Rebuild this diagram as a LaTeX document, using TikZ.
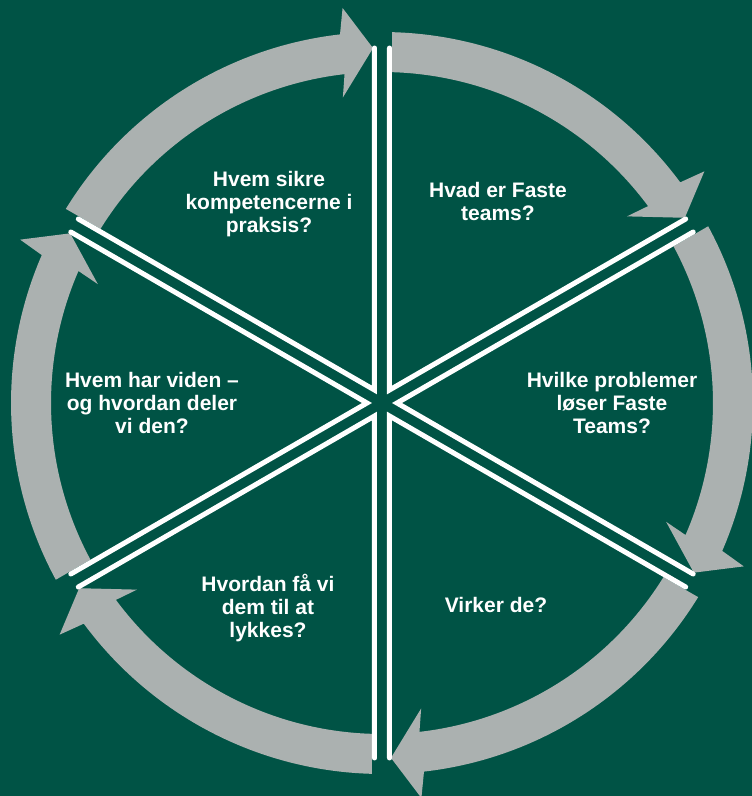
\documentclass[tikz,border=0pt]{standalone}
\usepackage{fontspec}
\setmainfont{Liberation Sans}
\definecolor{bg}{RGB}{0,83,69}
\definecolor{bandgray}{RGB}{171,177,176}
\begin{document}
\begin{tikzpicture}[x=1pt,y=1pt,
  bandarrow/.style={fill=bandgray},
  divider/.style={draw=white,line width=5pt,line cap=round,line join=miter},
  qtext/.style={text=white,font=\fontsize{21}{23}\selectfont\bfseries,align=center,inner sep=0pt}]
\useasboundingbox (-382,-393) rectangle (370,403);
\fill[bg] (-382,-393) rectangle (370,403);
% curved arrows (clockwise)
\foreach \a in {90,30,-30,-90,-150,-210}{
  \pgfmathsetmacro\tlo{\a-1.55}
  \pgfmathsetmacro\tli{\a-1.75}
  \pgfmathsetmacro\hbs{\a-60+6.5}
  \pgfmathsetmacro\hbo{\a-60+5.7}
  \pgfmathsetmacro\hbi{\a-60+7.3}
  \pgfmathsetmacro\htp{\a-60+1.45}
  \fill[bandarrow] (\tli:331) -- (\tlo:371)
    arc[start angle=\tlo,end angle=\hbs,radius=371]
    -- (\hbo:397) -- (\htp:355) -- (\hbi:308) -- (\hbs:331)
    arc[start angle=\hbs,end angle=\tli,radius=331] -- cycle;
}
% white sector dividers
\foreach \a in {90,30,-30,-90,-150,-210}{
  \pgfmathsetmacro\mdl{\a-30}
  \pgfmathsetmacro\bnd{\a-60}
  \draw[divider,shift={(\mdl:15)}] (\a:342) -- (0,0) -- (\bnd:342);
}
\node[qtext] (q1) at (-113,199) {Hvem sikre\\kompetencerne i\\praksis?};
\node[qtext] (q2) at (116,202) {Hvad er Faste\\teams?};
\node[qtext] (q3) at (230,0.5) {Hvilke problemer\\løser Faste\\Teams?};
\node[qtext] (q4) at (114,-202) {Virker de?};
\node[qtext] (q5) at (-114,-204.7) {Hvordan få vi\\dem til at\\lykkes?};
\node[qtext] (q6) at (-230,0.5) {Hvem har viden –\\og hvordan deler\\vi den?};
\end{tikzpicture}
\end{document}
